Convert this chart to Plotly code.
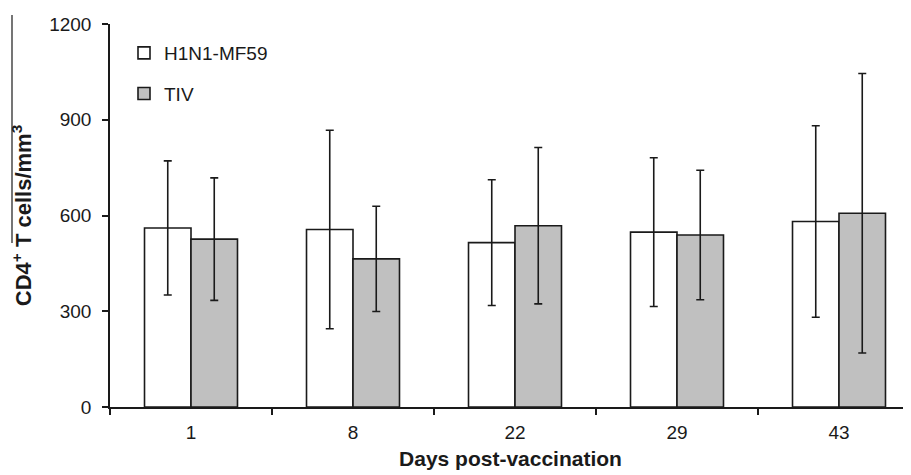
import plotly.graph_objects as go

days = ["1", "8", "22", "29", "43"]
h1n1_mean = [561, 556, 515, 548, 581]
h1n1_sd = [210, 311, 197, 233, 300]
tiv_mean = [526, 464, 568, 539, 607]
tiv_sd = [192, 165, 245, 203, 438]
y_ticks = [0, 300, 600, 900, 1200]

# page body adds an 8px offset; compensate
OFF = 8
W, H = 911 - OFF, 475 - OFF
L, R, T, B = 110 - OFF, 0, 24 - OFF, 68
pw = W - L - R
ph = H - T - B

font_family = "Liberation Sans, Arial, sans-serif"

def px_x(x):
    return (x - OFF - L) / pw

def px_y(y):
    return 1 - (y - OFF - T) / ph

def err(sd):
    return dict(type="data", array=sd, visible=True, color="#1a1a1a",
                thickness=1.6, width=4)

fig = go.Figure()
fig.add_trace(go.Bar(
    x=days, y=h1n1_mean, name="H1N1-MF59", legendgroup="a",
    marker=dict(color="white", line=dict(color="#1a1a1a", width=1.6)),
    error_y=err(h1n1_sd),
))
fig.add_trace(go.Bar(
    x=days, y=tiv_mean, name="TIV", legendgroup="b",
    marker=dict(color="#c0c0c0", line=dict(color="#1a1a1a", width=1.6)),
    error_y=err(tiv_sd),
))

fig.update_layout(
    width=W, height=H,
    margin=dict(l=L, r=R, t=T, b=B, autoexpand=False),
    plot_bgcolor="white", paper_bgcolor="white",
    barmode="group", bargap=0.426, bargroupgap=0,
    font=dict(family=font_family, size=19, color="#1a1a1a"),
    showlegend=True,
    legend=dict(x=px_x(124), y=px_y(34), xanchor="left", yanchor="top",
                bgcolor="rgba(0,0,0,0)", font=dict(size=19), tracegroupgap=13,
                itemwidth=30),
    xaxis=dict(
        type="category", range=[-0.5, -0.5 + pw / 162.0],
        showline=True, linecolor="#1a1a1a", linewidth=1.5,
        ticks="outside", tickson="boundaries", ticklen=6, tickwidth=1.5, tickcolor="#1a1a1a",
        showgrid=False, zeroline=False,
        tickfont=dict(size=19), ticklabelstandoff=7,
        title=dict(text="<b>Days post-vaccination</b>", font=dict(size=21), standoff=10),
        automargin=False,
    ),
    yaxis=dict(
        range=[0, 1200], tickvals=y_ticks, ticktext=[str(v) for v in y_ticks],
        showline=True, linecolor="#1a1a1a", linewidth=1.5,
        ticks="outside", ticklen=6, tickwidth=1.5, tickcolor="#1a1a1a",
        showgrid=False, zeroline=False,
        tickfont=dict(size=19), ticklabelstandoff=7,
        title=dict(text="<b>CD4<sup>+</sup> T cells/mm<sup>3</sup></b>", font=dict(size=22), standoff=28),
        automargin=False,
    ),
    shapes=[dict(type="line", xref="paper", yref="paper",
                 x0=px_x(12), x1=px_x(12),
                 y0=px_y(15), y1=px_y(243),
                 line=dict(color="#1a1a1a", width=1.2))],
)

fig.write_html("out.html")
